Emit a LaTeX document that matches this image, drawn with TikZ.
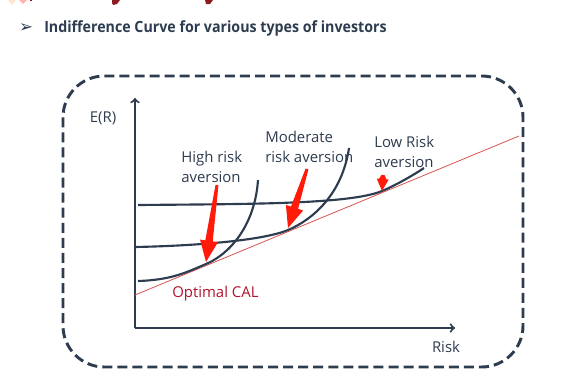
\documentclass[tikz,border=0pt]{standalone}
\usepackage{fontspec}
\setmainfont{Open Sans}
\newfontfamily\symfont{DejaVu Sans}
\newfontfamily\headfont[FakeStretch=0.92]{Open Sans}
\usetikzlibrary{arrows}
\usetikzlibrary{calc}

\definecolor{slate}{HTML}{2E3C4F}
\definecolor{calred}{HTML}{D9534F}
\definecolor{labred}{HTML}{B0122C}
\definecolor{arrred}{HTML}{FF1A0A}
\definecolor{titlered}{HTML}{8E1B22}

% filled red arrow with a tapered tail: #1 tail, #2 tip, #3 head length, #4 head half width
\newcommand{\wedgearrow}[4]{%
  \coordinate (wb) at ($(#2)!#3!(#1)$);
  \fill[arrred] ($(#1)!1.1pt!90:(#2)$) -- ($(wb)!2.8pt!90:(#2)$) -- ($(wb)!#4!90:(#2)$)
    -- (#2) -- ($(wb)!#4!-90:(#2)$) -- ($(wb)!2.8pt!-90:(#2)$) -- ($(#1)!1.1pt!-90:(#2)$) -- cycle;
}

\begin{document}
\begin{tikzpicture}[x=0.75pt,y=-0.75pt,
  lbl/.style={anchor=west, align=left, inner sep=0pt, text=slate,
    font=\fontsize{11.2}{15}\selectfont},
  curve/.style={slate, line width=1.6pt}]

\useasboundingbox (0,0) rectangle (572,382);

% bits of the cut-off title above
\fill[orange!20] (8,0) -- (12,5) -- (16,0) -- cycle;
\fill[red!30] (19,0) -- (23,4) -- (27,0) -- cycle;
\fill[titlered] (30,0) rectangle (32,1);
\fill[titlered] (112,0) -- (120,0) -- (117,4) -- (113,5) -- (112,3) -- cycle;
\fill[titlered] (205,0) -- (213,0) -- (210,4) -- (206,4) -- cycle;

% heading
\node[inner sep=0pt, text=slate] (bullet) at (26,28) {\symfont\bfseries\fontsize{12.5}{14}\selectfont ➢};
\node[anchor=west, inner sep=0pt, text=slate, font=\headfont\bfseries\fontsize{11.6}{14}\selectfont]
  (title) at (44,28) {Indifference Curve for various types of investors};

% dashed frame
\draw[slate, line width=2.2pt, dash pattern=on 7.5pt off 3.8pt, rounded corners=31pt]
  (63,76) rectangle (523,367);

% Draw x and y axis lines
\coordinate (O) at (135,328);
\coordinate (yend) at (135,98);
\coordinate (xend) at (455,328);
\draw[->,>=to, slate, line width=1.5pt] (O) -- (yend);
\draw[->,>=to, slate, line width=1.5pt] (O) -- (xend);
\node[text=slate, font=\fontsize{11.2}{14}\selectfont] (ER) at (103,118) {E(R)};
\node[text=slate, font=\fontsize{11.2}{14}\selectfont] (risk) at (446,347) {Risk};

% capital allocation line
\coordinate (calA) at (135,295);
\coordinate (calB) at (519,136);
\draw[calred, line width=0.6pt] (calA) -- (calB);
\node[anchor=west, inner sep=0pt, text=labred, font=\fontsize{11.2}{14}\selectfont]
  (cal) at (172,294) {Optimal CAL};

% indifference curves
\coordinate (hiT) at (206,264);
\coordinate (moT) at (288,230);
\coordinate (loT) at (382,191);
\draw[curve] (138,281) .. controls (172,280) and (187,272) .. (hiT)
  .. controls (230,254) and (255,225) .. (258,180);
\draw[curve] (135,247) .. controls (190,246) and (262,241) .. (moT)
  .. controls (312,220) and (342,195) .. (349,148);
\draw[curve] (138,205) .. controls (250,204) and (350,204.3) .. (loT)
  .. controls (395,185.6) and (412,176) .. (424,168);

% red pointers
\coordinate (hiTail) at (217,185);
\coordinate (hiTip) at (206,262);
\coordinate (moTail) at (307,169);
\coordinate (moTip) at (288,228);
\coordinate (loTail) at (383,175);
\coordinate (loTip) at (382,191);
\wedgearrow{hiTail}{hiTip}{16pt}{6.8pt}
\wedgearrow{moTail}{moTip}{16pt}{6.8pt}
\wedgearrow{loTail}{loTip}{9pt}{4.5pt}

% labels
\node[lbl] (hiLbl) at (181,167) {High risk\\aversion};
\node[lbl] (moLbl) at (265,147) {Moderate\\risk aversion};
\node[lbl] (loLbl) at (374,152) {Low Risk\\aversion};

\end{tikzpicture}
\end{document}
